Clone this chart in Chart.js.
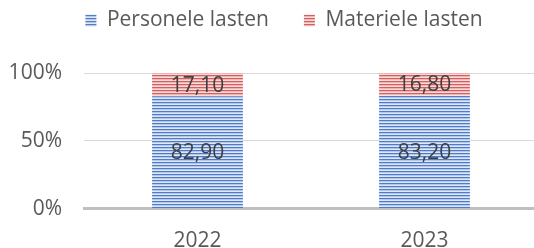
<!DOCTYPE html>
<html>
<head>
<meta charset="utf-8">
<script src="https://cdn.jsdelivr.net/npm/chart.js@4.4.1/dist/chart.umd.min.js"></script>
<style>
  html, body { margin: 0; padding: 0; background: #fff; overflow: hidden; }
  #wrap { width: 534px; height: 248px; overflow: hidden; }
  #box { width: 568px; height: 248px; }
</style>
</head>
<body>
<div id="wrap"><div id="box"><canvas id="chart"></canvas></div></div>
<script>
const years = ["2022", "2023"];
const personele = [82.9, 83.2];
const materiele = [17.1, 16.8];
const seriesNames = ["Personele lasten", "Materiele lasten"];
const yTicks = [0, 50, 100];

// horizontal stripe fill, like the office "light horizontal" pattern
function stripes(rows) {
  const c = document.createElement("canvas");
  c.width = 4;
  c.height = rows.length;
  const g = c.getContext("2d");
  rows.forEach((col, i) => {
    g.fillStyle = col;
    g.fillRect(0, i, 4, 1);
  });
  return g.createPattern(c, "repeat");
}

const blueFill = stripes(["#4f7bc7", "#b3c8ea", "#dde7f6"]);
const redFill = stripes(["#d2605f", "#efb5b5", "#f8dada"]);

const FONT = "'Open Sans', sans-serif";

const labelPlugin = {
  id: "barLabels",
  afterDatasetsDraw(chart) {
    const ctx = chart.ctx;
    ctx.save();
    ctx.font = "21px " + FONT;
    ctx.fillStyle = "#404040";
    ctx.textAlign = "center";
    ctx.textBaseline = "middle";
    chart.data.datasets.forEach((ds, i) => {
      chart.getDatasetMeta(i).data.forEach((bar, j) => {
        const txt = ds.data[j].toFixed(2).replace(".", ",");
        ctx.fillText(txt, bar.x, (bar.y + bar.base) / 2 + 1);
      });
    });
    ctx.restore();
  }
};

new Chart(document.getElementById("chart"), {
  type: "bar",
  data: {
    labels: years,
    datasets: [
      {
        label: seriesNames[0],
        data: personele,
        backgroundColor: blueFill,
        borderWidth: 0,
        categoryPercentage: 0.4,
        barPercentage: 1
      },
      {
        label: seriesNames[1],
        data: materiele,
        backgroundColor: redFill,
        borderWidth: 0,
        categoryPercentage: 0.4,
        barPercentage: 1
      }
    ]
  },
  options: {
    responsive: true,
    maintainAspectRatio: false,
    animation: false,
    layout: { padding: { left: 0, right: 0, top: -25, bottom: -18 } },
    plugins: {
      tooltip: { enabled: false },
      legend: {
        position: "top",
        labels: {
          boxWidth: 11,
          boxHeight: 12,
          padding: 35,
          color: "#595959",
          font: { family: FONT, size: 21 }
        }
      },
      // empty spacer between legend and plot
      subtitle: {
        display: true,
        text: "",
        weight: 500,
        font: { size: 10, lineHeight: 1 },
        padding: { top: 11, bottom: 11 }
      }
    },
    scales: {
      x: {
        stacked: true,
        grid: { display: false },
        border: { color: "#bfbfbf", width: 3 },
        ticks: {
          color: "#595959",
          padding: 12,
          font: { family: FONT, size: 21 }
        }
      },
      y: {
        stacked: true,
        min: 0,
        max: 100,
        afterBuildTicks(scale) {
          scale.ticks = yTicks.map(v => ({ value: v }));
        },
        afterFit(scale) {
          scale.width = 84;
        },
        border: { display: false },
        grid: { color: "#d9d9d9", lineWidth: 1, drawTicks: false },
        ticks: {
          color: "#595959",
          padding: 22,
          font: { family: FONT, size: 21 },
          callback: v => v + "%"
        }
      },
      // blank right margin, so the plot stops where the original crop does
      right: {
        position: "right",
        grid: { display: false },
        border: { display: false },
        ticks: { display: false },
        afterFit(scale) {
          scale.width = 30;
        }
      }
    }
  },
  plugins: [labelPlugin]
});
</script>
</body>
</html>
